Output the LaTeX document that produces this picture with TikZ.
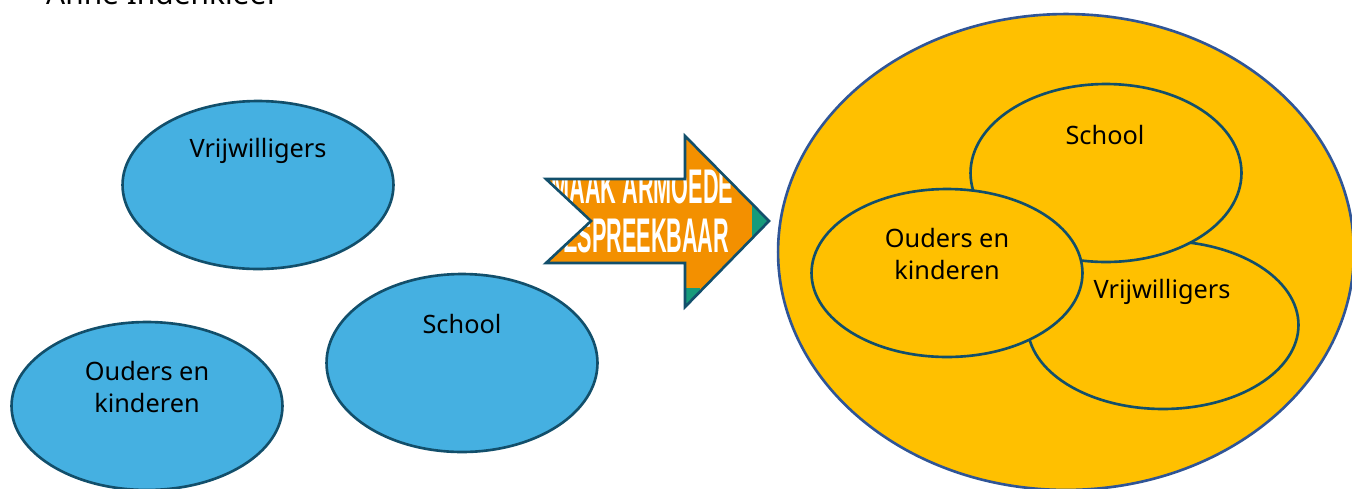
\documentclass[tikz,border=0pt]{standalone}
\usepackage{fontspec}
\setmainfont{Noto Sans}
\newfontfamily\bannerfont{Liberation Sans}
\usetikzlibrary{shapes.geometric}
\definecolor{blobblue}{HTML}{45B0E1}
\definecolor{blobline}{HTML}{124F6B}
\definecolor{poolgold}{HTML}{FFC000}
\definecolor{poolline}{HTML}{2F5597}
\definecolor{arroworange}{HTML}{F39000}
\definecolor{arrowteal}{HTML}{169B7B}
\tikzset{
  blob/.style={
    draw=blobline,
    ellipse,
    line width=1.5pt,
    inner sep=0pt,
    outer sep=0pt,
    minimum width=5.42cm,
    minimum height=3.36cm,
    fill=blobblue
  },
  goldblob/.style={
    blob,
    fill=poolgold
  },
  lbl/.style={
    align=center,
    text=black,
    font=\fontsize{14.4}{18.1}\selectfont
  },
  banner/.style={
    text=white,
    xscale=0.445,
    anchor=base east,
    font=\bannerfont\bfseries\fontsize{27.7}{27.7}\selectfont
  }
}
\begin{document}
\begin{tikzpicture}[x=0.02cm, y=-0.02cm]
    \useasboundingbox (0,0) rectangle (1352,488);
    \clip (0,0) rectangle (1352,488);

    \node[lbl, anchor=base west, font=\fontsize{17}{20}\selectfont] (author) at (40,4) {Anne Indenkleef};

    % left side
    \node[blob] (vrij) at (258,185) {};
    \node[blob, minimum height=3.56cm] (school) at (462,363) {};
    \node[blob] (ouders) at (147,406) {};
    \node[lbl] (vrijtxt) at (258,151) {Vrijwilligers};
    \node[lbl] (schooltxt) at (462,324) {School};
    \node[lbl] (ouderstxt) at (147,387) {Ouders en\\kinderen};

    % arrow
    \fill[arroworange] (546,179) -- (685,179) -- (685,136) -- (769,221) -- (685,307) -- (685,263) -- (546,263) -- (591,221) -- cycle;
    \begin{scope}
      \clip (546,179) -- (685,179) -- (685,136) -- (769,221) -- (685,307) -- (685,263) -- (546,263) -- (591,221) -- cycle;
      \fill[arrowteal] (752,136) rectangle (769,307);
      \fill[arrowteal] (685,288) rectangle (700,307);
      \node[banner] (maak) at (736,203) {MAAK ARMOEDE};
      \node[banner] (bespreek) at (732,252) {BESPREEKBAAR};
    \end{scope}
    \draw[blobline, line width=1.5pt, line join=miter] (546,179) -- (685,179) -- (685,136) -- (769,221) -- (685,307) -- (685,263) -- (546,263) -- (591,221) -- cycle;

    % right side
    \node[goldblob, draw=poolline, minimum width=11.52cm, minimum height=9.52cm] (pool) at (1066,252) {};
    \node[goldblob] (vrijin) at (1163,325) {};
    \node[goldblob, minimum height=3.56cm] (schoolin) at (1106,173) {};
    \node[goldblob] (oudersin) at (947,273) {};
    \node[lbl] (schoolintxt) at (1105,135) {School};
    \node[lbl] (vrijintxt) at (1162,292) {Vrijwilligers};
    \node[lbl] (oudersintxt) at (947,254) {Ouders en\\kinderen};
\end{tikzpicture}
\end{document}
